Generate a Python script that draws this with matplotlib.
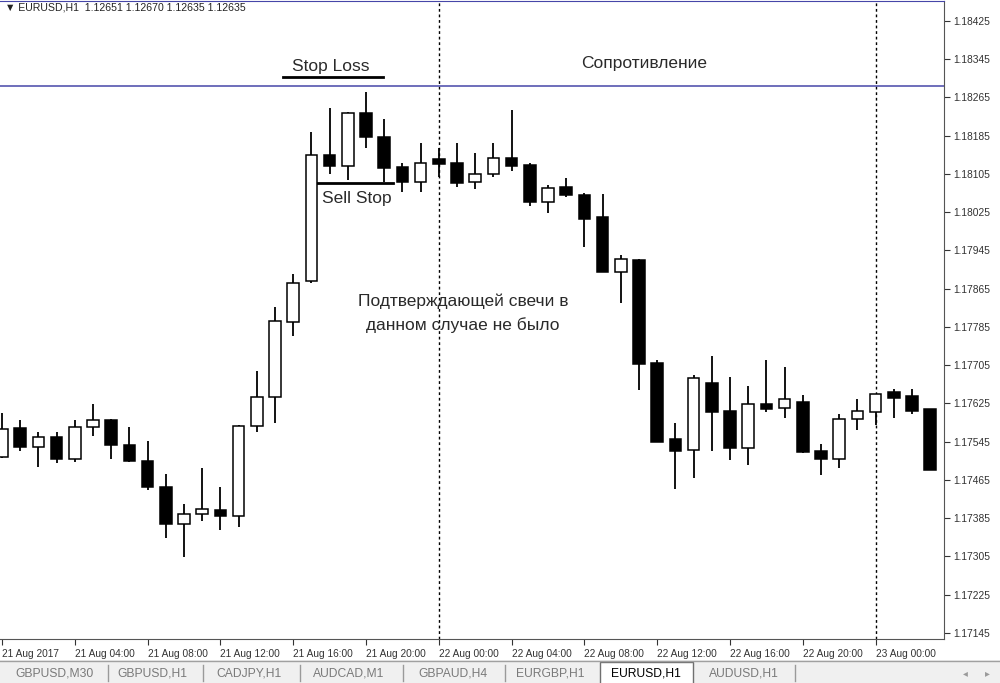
import numpy as np
import matplotlib.pyplot as plt
from matplotlib.patches import Rectangle

plt.rcParams['font.family'] = ['Liberation Sans', 'DejaVu Sans']

# EURUSD H1, 21 Aug 2017 00:00 .. 23 Aug 03:00 (one candle per hour)
opens = [1.17513, 1.17574, 1.17534, 1.17555, 1.17509, 1.17576, 1.17590, 1.17538, 1.17505, 1.17450,
         1.17373, 1.17394, 1.17402, 1.17390, 1.17577, 1.17638, 1.17796, 1.17881, 1.18144, 1.18122,
         1.18233, 1.18182, 1.18120, 1.18089, 1.18136, 1.18129, 1.18089, 1.18106, 1.18138, 1.18123,
         1.18046, 1.18078, 1.18062, 1.18014, 1.17899, 1.17926, 1.17709, 1.17550, 1.17527, 1.17668,
         1.17609, 1.17532, 1.17623, 1.17615, 1.17628, 1.17526, 1.17508, 1.17592, 1.17608, 1.17648,
         1.17641, 1.17613]
highs = [1.17605, 1.17590, 1.17565, 1.17565, 1.17590, 1.17624, 1.17592, 1.17576, 1.17547, 1.17478,
         1.17415, 1.17490, 1.17450, 1.17580, 1.17693, 1.17826, 1.17896, 1.18192, 1.18244, 1.18235,
         1.18276, 1.18221, 1.18127, 1.18169, 1.18159, 1.18169, 1.18148, 1.18169, 1.18239, 1.18129,
         1.18082, 1.18096, 1.18065, 1.18063, 1.17936, 1.17928, 1.17716, 1.17584, 1.17685, 1.17724,
         1.17681, 1.17662, 1.17715, 1.17702, 1.17643, 1.17540, 1.17603, 1.17635, 1.17645, 1.17655,
         1.17655, 1.17614]
lows = [1.17511, 1.17526, 1.17492, 1.17501, 1.17503, 1.17557, 1.17509, 1.17503, 1.17444, 1.17344,
        1.17304, 1.17379, 1.17360, 1.17367, 1.17565, 1.17584, 1.17766, 1.17878, 1.18104, 1.18092,
        1.18159, 1.18088, 1.18068, 1.18068, 1.18099, 1.18077, 1.18074, 1.18098, 1.18111, 1.18037,
        1.18023, 1.18056, 1.17953, 1.17900, 1.17835, 1.17653, 1.17545, 1.17446, 1.17470, 1.17526,
        1.17507, 1.17496, 1.17608, 1.17595, 1.17521, 1.17475, 1.17491, 1.17570, 1.17580, 1.17594,
        1.17603, 1.17486]
closes = [1.17572, 1.17534, 1.17555, 1.17509, 1.17576, 1.17590, 1.17538, 1.17505, 1.17450, 1.17373,
          1.17394, 1.17404, 1.17390, 1.17578, 1.17638, 1.17798, 1.17878, 1.18144, 1.18122, 1.18233,
          1.18182, 1.18117, 1.18089, 1.18127, 1.18125, 1.18087, 1.18106, 1.18138, 1.18122, 1.18046,
          1.18076, 1.18060, 1.18011, 1.17900, 1.17928, 1.17708, 1.17545, 1.17526, 1.17678, 1.17607,
          1.17531, 1.17623, 1.17613, 1.17635, 1.17524, 1.17508, 1.17592, 1.17609, 1.17645, 1.17637,
          1.17610, 1.17486]

price_ticks = [1.17145, 1.17225, 1.17305, 1.17385, 1.17465, 1.17545, 1.17625, 1.17705, 1.17785,
               1.17865, 1.17945, 1.18025, 1.18105, 1.18185, 1.18265, 1.18345, 1.18425]
time_ticks = [0, 4, 8, 12, 16, 20, 24, 28, 32, 36, 40, 44, 48]
time_labels = ['21 Aug 2017', '21 Aug 04:00', '21 Aug 08:00', '21 Aug 12:00', '21 Aug 16:00',
               '21 Aug 20:00', '22 Aug 00:00', '22 Aug 04:00', '22 Aug 08:00', '22 Aug 12:00',
               '22 Aug 16:00', '22 Aug 20:00', '23 Aug 00:00']

resistance = 1.18289
sell_stop = 1.18086
stop_loss = 1.18308
day_breaks = [24, 48]

tabs = ['GBPUSD,M30', 'GBPUSD,H1', 'CADJPY,H1', 'AUDCAD,M1', 'GBPAUD,H4', 'EURGBP,H1', 'EURUSD,H1', 'AUDUSD,H1']
tab_x = [55, 152, 249, 349, 453, 550, 646, 744]
active_tab = 'EURUSD,H1'

W, H = 1000, 683
fig = plt.figure(figsize=(10, 6.83), dpi=100)
ax = fig.add_axes([0, 1 - 639 / H, 944 / W, 638 / H])

o = np.array(opens); c = np.array(closes)
x = np.arange(len(o))
ax.vlines(x, lows, highs, color='black', lw=1.3, zorder=2)
body_h = np.maximum(np.abs(c - o), 0.00003)
cols = np.where(c < o, 'black', 'white')
ax.bar(x, body_h, bottom=np.minimum(o, c), width=0.64, color=cols, edgecolor='black', lw=1.1, zorder=3)

for d in day_breaks:
    ax.axvline(d, color='black', lw=1, ls=(0, (2, 2)), zorder=1)
ax.axhline(resistance, color='#4646a8', lw=1.1, zorder=1)

txt = dict(ha='center', va='baseline', fontsize=12.5, color='#2a2a2a')
ax.plot([15.44, 20.93], [stop_loss, stop_loss], color='black', lw=2)
ax.text(18.08, 1.18320, 'Stop Loss', **txt)
ax.text(35.3, 1.18327, 'Сопротивление', **txt)
ax.plot([16.95, 21.48], [sell_stop, sell_stop], color='black', lw=2)
ax.text(19.5, 1.18045, 'Sell Stop', **txt)
ax.text(25.33, 1.17829, 'Подтверждающей свечи в', **txt)
ax.text(25.33, 1.17779, 'данном случае не было', **txt)

ax.set_xlim(-0.11, 51.76)
ax.set_ylim(1.171324, 1.184668)

ax.yaxis.tick_right()
ax.set_yticks(price_ticks)
ax.set_yticklabels(['%.5f' % p for p in price_ticks])
ax.set_xticks(time_ticks)
ax.set_xticklabels(time_labels)
ax.tick_params(axis='y', direction='out', length=4, pad=3, labelsize=7.4, colors='#333333')
ax.tick_params(axis='x', direction='out', length=4, pad=3, labelsize=7.3, colors='#333333')
for lbl in ax.get_xticklabels():
    lbl.set_horizontalalignment('left')

ax.spines['left'].set_visible(False)
ax.spines['top'].set_color('#4646a8')
ax.spines['right'].set_color('#555555')
ax.spines['bottom'].set_color('#555555')

fig.text(5 / W, 1 - 7 / H, '▼ EURUSD,H1  1.12651 1.12670 1.12635 1.12635', fontsize=7.6,
         va='center', ha='left', color='#222222')

# tab bar
tb = fig.add_axes([0, 0, 1, 23 / H])
tb.set_xlim(0, W)
tb.set_ylim(23, 0)
tb.axis('off')
tb.add_patch(Rectangle((0, 0), W, 23, facecolor='#f0f0f0', edgecolor='none'))
tb.plot([0, W], [0.5, 0.5], color='#a0a0a0', lw=1)
tb.add_patch(Rectangle((600, 2), 93, 22, facecolor='white', edgecolor='#707070', lw=1))
for name, tx in zip(tabs, tab_x):
    col = 'black' if name == active_tab else '#7a7a7a'
    tb.text(tx, 13, name, ha='center', va='center', fontsize=8.7, color=col)
for sx in [108, 203, 300, 403, 505, 795]:
    tb.plot([sx, sx], [5, 21], color='#9a9a9a', lw=1)
tb.text(965, 13, '◂', ha='center', va='center', fontsize=7, color='#9a9a9a')
tb.text(987, 13, '▸', ha='center', va='center', fontsize=7, color='#9a9a9a')

fig.savefig('out.png', dpi=100)
